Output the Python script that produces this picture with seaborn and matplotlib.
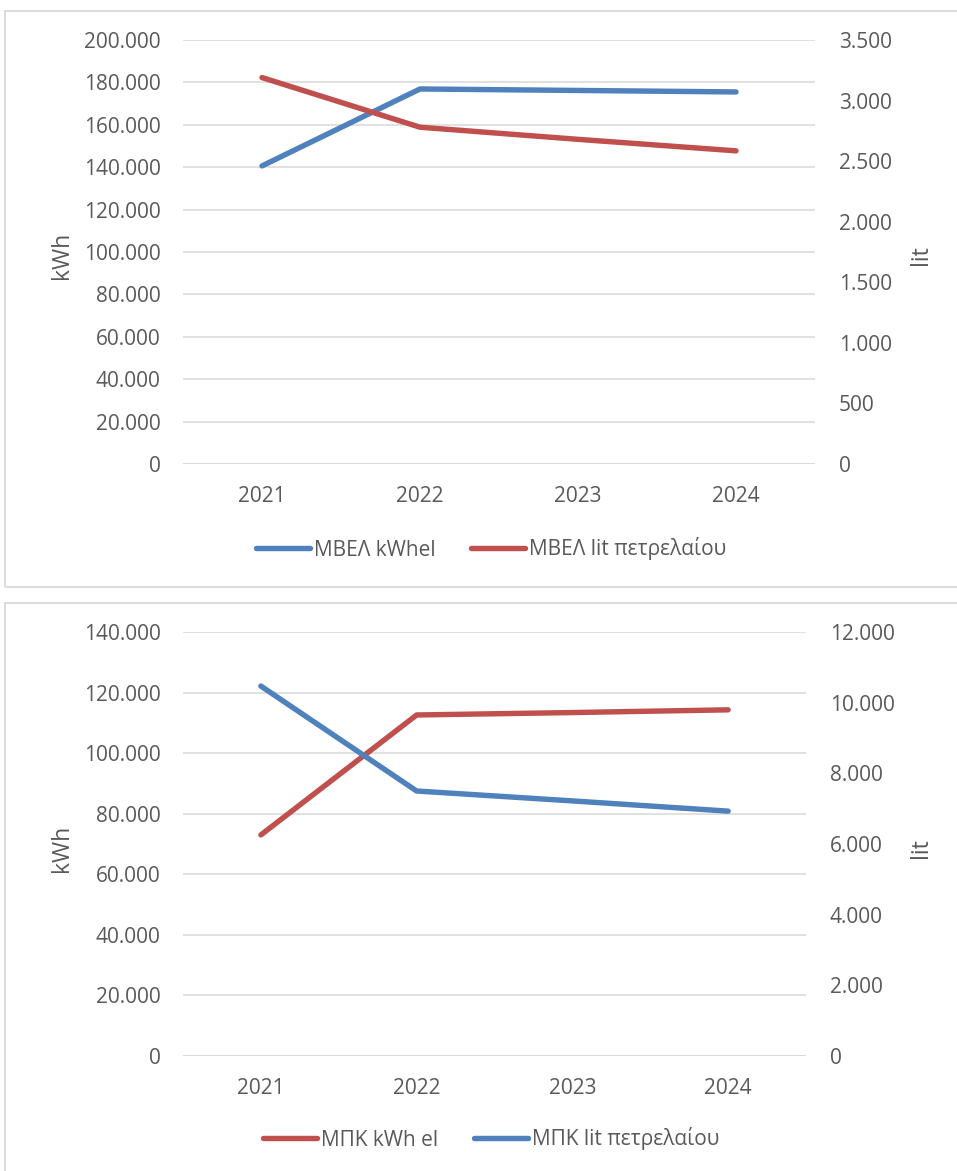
import matplotlib
matplotlib.use("Agg")
import matplotlib.pyplot as plt
import seaborn as sns
from matplotlib.ticker import FuncFormatter, MultipleLocator
from matplotlib.patches import Rectangle

# Δεδομένα (εκτίμηση από το γράφημα)
years = [2021, 2022, 2023, 2024]

mbel_kwh = [140600, 176900, 176200, 175500]   # ΜΒΕΛ kWhel (αριστερός άξονας)
mbel_lit = [3190, 2780, 2680, 2585]           # ΜΒΕΛ lit πετρελαίου (δεξιός άξονας)

mpk_kwh = [73000, 112600, 113400, 114300]     # ΜΠΚ kWh el (αριστερός άξονας)
mpk_lit = [10470, 7500, 7220, 6930]           # ΜΠΚ lit πετρελαίου (δεξιός άξονας)

BLUE = "#4F81BD"
RED = "#C0504D"
GRID = "#D9D9D9"
TXT = "#595959"

sns.set_style("white")
plt.rcParams['font.family'] = ['Open Sans', 'DejaVu Sans']
FS = 15

W, H = 957, 1171
fig = plt.figure(figsize=(W / 100, H / 100), dpi=100)


def px_axes(left, right, top, bottom):
    return fig.add_axes([left / W, 1 - bottom / H, (right - left) / W, (bottom - top) / H])


def thousands(v, pos):
    return f"{v:,.0f}".replace(",", ".")


def draw_chart(ax, left_vals, right_vals, left_color, right_color,
               ymax_l, step_l, ymax_r, step_r, labels):
    ax2 = ax.twinx()
    sns.lineplot(x=years, y=left_vals, ax=ax, color=left_color, linewidth=3.9,
                 solid_capstyle="round", label=labels[0], legend=False)
    sns.lineplot(x=years, y=right_vals, ax=ax2, color=right_color, linewidth=3.9,
                 solid_capstyle="round", label=labels[1], legend=False)

    ax.set_xlim(2020.5, 2024.5)
    ax.set_ylim(0, ymax_l)
    ax2.set_ylim(0, ymax_r)
    ax.yaxis.set_major_locator(MultipleLocator(step_l))
    ax2.yaxis.set_major_locator(MultipleLocator(step_r))
    ax.yaxis.set_major_formatter(FuncFormatter(thousands))
    ax2.yaxis.set_major_formatter(FuncFormatter(thousands))
    ax.set_xticks(years)
    ax.set_xticklabels([str(y) for y in years])

    ax.grid(axis="y", color=GRID, linewidth=1.1)
    ax.grid(axis="x", visible=False)
    ax2.grid(False)
    ax.set_axisbelow(True)
    for a in (ax, ax2):
        for s in a.spines.values():
            s.set_visible(False)
        a.set_xlabel("")
        a.set_ylabel("")
        a.tick_params(length=0, labelsize=FS, labelcolor=TXT)
        a.set_facecolor("none")
    ax.tick_params(axis="y", pad=16)
    ax2.tick_params(axis="y", pad=17)
    ax.tick_params(axis="x", pad=16)
    ax.axhline(0, color=GRID, linewidth=1.1, zorder=0)

    return [ax.get_lines()[0], ax2.get_lines()[0]]


# Πάνω γράφημα (ΜΒΕΛ)
ax_top = px_axes(183, 815, 40, 464)
h_top = draw_chart(ax_top, mbel_kwh, mbel_lit, BLUE, RED,
                   200000, 20000, 3500, 500,
                   ["ΜΒΕΛ kWhel", "ΜΒΕΛ lit πετρελαίου"])

# Κάτω γράφημα (ΜΠΚ)
ax_bot = px_axes(183, 806, 632, 1056)
h_bot = draw_chart(ax_bot, mpk_kwh, mpk_lit, RED, BLUE,
                   140000, 20000, 12000, 2000,
                   ["ΜΠΚ kWh el", "ΜΠΚ lit πετρελαίου"])

legend_kw = dict(loc="center", frameon=False, ncol=2, fontsize=FS,
                 handlelength=2.6, handletextpad=0.2, columnspacing=1.7,
                 labelcolor=TXT)
fig.legend(handles=h_top, labels=[h.get_label() for h in h_top],
           bbox_to_anchor=(491 / W, 1 - 549 / H), **legend_kw)
fig.legend(handles=h_bot, labels=[h.get_label() for h in h_bot],
           bbox_to_anchor=(491 / W, 1 - 1139 / H), **legend_kw)

# Τίτλοι αξόνων
for yc in (255, 848):
    fig.text(62 / W, 1 - yc / H, "kWh", rotation=90, ha="center", va="center",
             fontsize=16.5, color=TXT)
    fig.text(921 / W, 1 - yc / H, "lit", rotation=90, ha="center", va="center",
             fontsize=16.5, color=TXT)

# Περιγράμματα περιοχών γραφημάτων
for top, bottom in ((11, 587), (603, 1190)):
    fig.patches.append(Rectangle((5 / W, 1 - bottom / H), (W + 20) / W, (bottom - top) / H,
                                 transform=fig.transFigure, fill=False,
                                 edgecolor=GRID, linewidth=1.3))

fig.savefig("out.png", dpi=100)
